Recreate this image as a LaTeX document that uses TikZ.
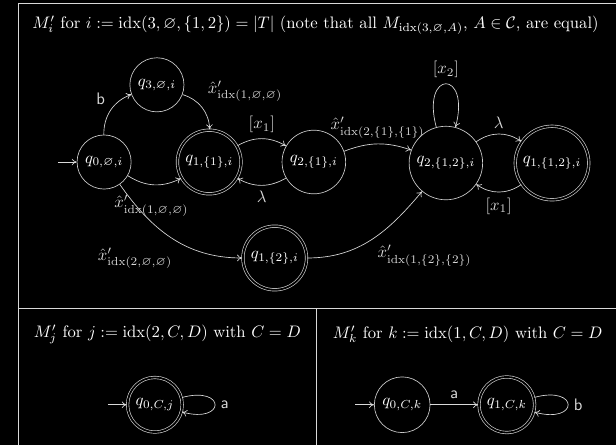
\documentclass[tikz,border=0pt]{standalone}
\usepackage{amsmath,amssymb}
\usetikzlibrary{automata,arrows.meta,positioning}

\newcommand{\ix}[1]{\hat{x}'_{\operatorname{idx}(#1)}}

\begin{document}
\begin{tikzpicture}[
  x=1.072cm, y=1.072cm,
  color=white!85!black,
  st/.style={state, draw=white!80!black, text=white},
  acc/.style={st, accepting, double=black, double distance=1.1pt},
  arr/.style={-{To[length=3pt,width=4pt]}, thin},
  initial text={}, initial distance=0.4cm,
  every initial by arrow/.style={arr},
  ttl/.style={anchor=west, text=white},
]
  \path[use as bounding box, fill=black] (0,0) rectangle (12.13,-8.763);
  %% frame
  \draw (12.13,-0.059) -- (0.354,-0.059) -- (0.354,-8.763);
  \draw (0.354,-6.065) -- (12.13,-6.065);
  \draw (6.222,-6.065) -- (6.222,-8.763);
  %% M'_i
  \node[ttl] (T1) at (0.52,-0.49)
    {$M'_i$ for $i := \operatorname{idx}(3,\varnothing,\{1,2\}) = |T|$ (note that all $M_{\operatorname{idx}(3,\varnothing,A)}$, $A \in \mathcal{C}$, are equal)};
  \node[st, initial] (q0)  at (2.05,-3.19)  {$q_{0,\varnothing,i}$};
  \node[st]          (q3)  at (3.09,-1.67)  {$q_{3,\varnothing,i}$};
  \node[acc]         (q1A) at (4.12,-3.19)  {$q_{1,\{1\},i}$};
  \node[st]          (q2A) at (6.18,-3.19)  {$q_{2,\{1\},i}$};
  \node[st]          (q2B) at (8.78,-3.21)  {$q_{2,\{1,2\},i}$};
  \node[acc]         (q1B) at (10.87,-3.21) {$q_{1,\{1,2\},i}$};
  \node[acc]         (q1C) at (5.41,-5.08)  {$q_{1,\{2\},i}$};
  \draw[arr] (q0) to[bend left=35] node[above left]{$\mathsf{b}$} (q3);
  \draw[arr] (q3) to[bend left=35] node[above right]{$\ix{1,\varnothing,\varnothing}$} (q1A);
  \draw[arr] (q0) to[bend right=30] node[below=3pt, pos=0.45]{$\ix{1,\varnothing,\varnothing}$} (q1A);
  \draw[arr] (q1A) to[bend left=30] node[above]{$[x_1]$} (q2A);
  \draw[arr] (q2A) to[bend left=30] node[below]{$\lambda$} (q1A);
  \draw[arr] (q2A) to[bend left=20] node[above]{$\ix{2,\{1\},\{1\}}$} (q2B);
  \draw[arr] (q2B) to[loop above] node[above]{$[x_2]$} (q2B);
  \draw[arr] (q2B) to[bend left=35] node[above]{$\lambda$} (q1B);
  \draw[arr] (q1B) to[bend left=35] node[below]{$[x_1]$} (q2B);
  \draw[arr] (q0) to[out=-55, in=180] node[pos=0.55, below left]{$\ix{2,\varnothing,\varnothing}$} (q1C);
  \draw[arr] (q1C) to[out=0, in=-130] node[pos=0.5, below right]{$\ix{1,\{2\},\{2\}}$} (q2B);
  %% M'_j
  \node[ttl] (T2) at (0.55,-6.58) {$M'_j$ for $j := \operatorname{idx}(2,C,D)$ with $C = D$};
  \node[acc, initial] (q0j) at (3.05,-7.97) {$q_{0,C,j}$};
  \draw[arr] (q0j) to[loop right] node[right]{$\mathsf{a}$} (q0j);
  %% M'_k
  \node[ttl] (T3) at (6.44,-6.58) {$M'_k$ for $k := \operatorname{idx}(1,C,D)$ with $C = D$};
  \node[st, initial] (q0k) at (7.92,-7.97) {$q_{0,C,k}$};
  \node[acc]         (q1k) at (9.98,-7.97) {$q_{1,C,k}$};
  \draw[arr] (q0k) -- node[above]{$\mathsf{a}$} (q1k);
  \draw[arr] (q1k) to[loop right] node[right]{$\mathsf{b}$} (q1k);
\end{tikzpicture}
\end{document}
